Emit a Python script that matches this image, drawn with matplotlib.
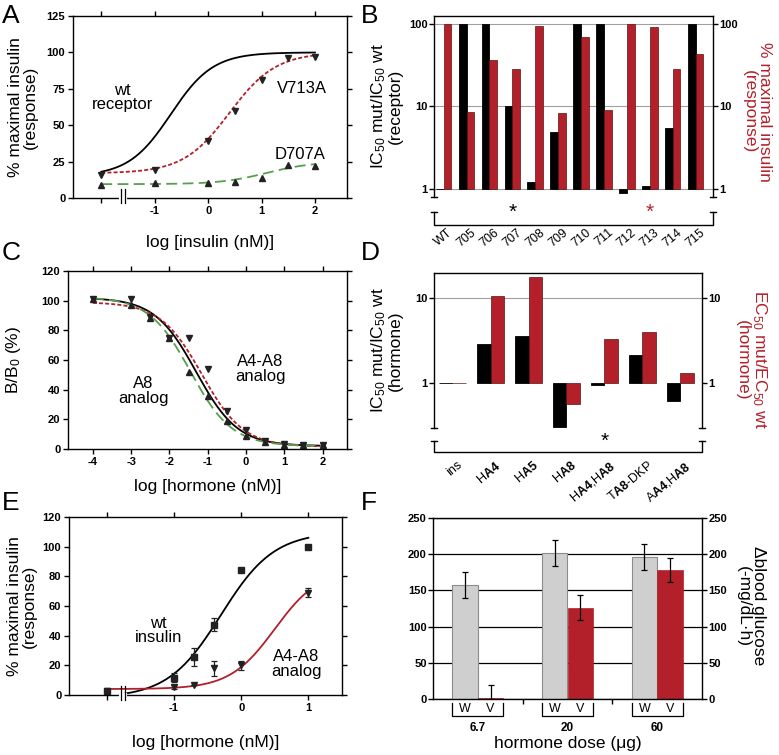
import numpy as np
import matplotlib.pyplot as plt
from matplotlib.transforms import blended_transform_factory as btf

plt.rcParams['font.family'] = 'Liberation Sans'
plt.rcParams['mathtext.fontset'] = 'custom'
plt.rcParams['mathtext.rm'] = 'Liberation Sans'
plt.rcParams['mathtext.bf'] = 'Liberation Sans:bold'
plt.rcParams['mathtext.it'] = 'Liberation Sans:italic'

RED = '#b3202a'
GREEN = '#55a04c'
GRAY = '#cfcfcf'
LAB = 12.5   # axis label size
ANN = 12     # in-plot labels
TK = 8       # tick labels

# ---- panel A : receptor mutants
a_x = [-2, -1, 0, 0.5, 1, 1.5, 2]
a_v713 = [16, 19, 39, 60, 81, 96, 97]
a_d707 = [9, 10, 10, 11, 13.5, 23, 22]
# fit params: bottom, top, logEC50, hill
a_fit_wt = (15, 100, -0.7, 1.1)
a_fit_v713 = (17, 100, 0.4, 1.0)
a_fit_d707 = (9.5, 25, 1.1, 1.0)

# ---- panel B : alanine scan
b_labels = ['WT', '705', '706', '707', '708', '709', '710', '711', '712', '713', '714', '715']
b_ic50 = [1, 100, 100, 10, 1.2, 4.9, 100, 100, 0.9, 1.1, 5.5, 100]
b_resp = [100, 8.5, 36, 28, 95, 8.2, 70, 9, 98, 92, 28.5, 43.5]

# ---- panel C : competitive binding
c_x = [-4, -3, -2.5, -2, -1.5, -1, -0.5, 0, 0.5, 1, 1.5, 2]
c_a4a8 = [101, 101, 89, 75, 74.5, 54, 25.6, 13, 5.6, 3.4, 3, 2.7]
c_a8 = [101, 97, 88, 74.5, 52, 36, 19, 9, 5, 2.7, 2.7, 2.5]
c_fit_ins = (2, 102, -1.3, -0.8)
c_fit_a4a8 = (1.5, 99, -1.15, -0.8)
c_fit_a8 = (2, 102.5, -1.45, -0.8)

# ---- panel D : analogs
d_labels = ['ins', r'H$\mathbf{A4}$', r'H$\mathbf{A5}$', r'H$\mathbf{A8}$',
            r'H$\mathbf{A4}$,H$\mathbf{A8}$', r'T$\mathbf{A8}$-DKP', r'A$\mathbf{A4}$,H$\mathbf{A8}$']
d_ic50 = [1, 2.9, 3.6, 0.31, 0.94, 2.15, 0.62]
d_ec50 = [1, 10.5, 17.7, 0.57, 3.26, 3.97, 1.31]

# ---- panel E : activity
e_x = [-2, -1, -0.7, -0.4, 0, 1]
e_wt = [2.5, 11.5, 25.5, 47.5, 84, 100]
e_wt_err = [0, 3, 6, 4.5, 0, 0]
e_a4a8 = [3, 5.5, 7, 18, 20, 69]
e_a4a8_err = [0, 1.5, 0, 5, 3, 3]
e_fit_wt = (-2, 110, -0.3, 1.1)
e_fit_a4a8 = (4, 85, 0.5, 1.3)

# ---- panel F : rat potency
f_doses = ['6.7', '20', '60']
f_wt = [158, 202, 196]
f_wt_err = [18, 18, 18]
f_v = [1.5, 126, 178]
f_v_err = [18, 17, 17]


def logistic(x, p):
    bottom, top, logec, hill = p
    return bottom + (top - bottom) / (1 + 10 ** ((logec - x) * hill))


def rect(l, r, t, b):
    return [l / 779, 1 - b / 755, (r - l) / 779, (b - t) / 755]


def ftext(xp, yp, s, **kw):
    fig.text(xp / 779, 1 - yp / 755, s, **kw)


def curve_style(ax):
    for s in ax.spines.values():
        s.set_linewidth(1.0)
    ax.tick_params(direction='out', length=3.5, width=1.0, top=True, right=True,
                   labelsize=TK, pad=2)
    for t in ax.get_xticklabels() + ax.get_yticklabels():
        t.set_fontweight('bold')


def axis_break(ax, xb):
    tr = btf(ax.transData, ax.transAxes)
    ax.plot([xb - 0.03, xb + 0.03], [0, 0], transform=tr, color='white', lw=3,
            clip_on=False, zorder=5)
    for xx in (xb - 0.03, xb + 0.03):
        ax.plot([xx, xx], [-0.03, 0.05], transform=tr, color='k', lw=0.9,
                clip_on=False, zorder=6)


def bottom_bracket(ax, y1, y2, cap=0.012):
    kw = dict(transform=ax.transAxes, color='k', lw=1.0, clip_on=False)
    for x0 in (0, 1):
        ax.plot([x0 - cap, x0 + cap], [0, 0], **kw)
        ax.plot([x0 - cap, x0 + cap], [y1, y1], **kw)
    ax.plot([0, 0, 1, 1], [y1, y2, y2, y1], **kw)


def log_bar_style(ax, ticks, ylim):
    ax.set_yscale('log')
    ax.set_ylim(*ylim)
    ax.spines['bottom'].set_visible(False)
    for s in ax.spines.values():
        s.set_linewidth(1.0)
    ax.set_yticks(ticks, [str(t) for t in ticks])
    ax.yaxis.set_minor_locator(plt.NullLocator())
    ax.tick_params(axis='y', direction='out', length=3.5, width=1.0, labelsize=TK,
                   right=True, labelright=True, pad=1)
    for t in ax.get_yticklabels():
        t.set_fontweight('bold')
    ax.tick_params(axis='x', length=0)
    ax.set_xticks([])
    ax.set_axisbelow(True)


fig = plt.figure(figsize=(7.79, 7.55), dpi=100)

# ================= A
ax = fig.add_axes(rect(73, 347, 16, 198))
xx = np.linspace(-2, 2, 200)
ax.plot(xx, logistic(xx, a_fit_wt), color='k', lw=1.3)
ax.plot(xx, logistic(xx, a_fit_v713), color=RED, lw=1.3, dashes=(2.2, 1.2))
ax.plot(xx, logistic(xx, a_fit_d707), color=GREEN, lw=1.3, dashes=(6, 3))
ax.plot(a_x, a_v713, 'v', color='#222222', ms=5)
ax.plot(a_x, a_d707, '^', color='#222222', ms=5)
ax.set_xlim(-2.53, 2.6)
ax.set_ylim(0, 125)
ax.set_xticks([-2, -1, 0, 1, 2], ['', '-1', '0', '1', '2'])
ax.set_yticks([0, 25, 50, 75, 100, 125])
curve_style(ax)
axis_break(ax, -1.595)
ax.text(-1.6, 69, 'wt\nreceptor', fontsize=ANN, ha='center', va='center', linespacing=0.95)
ax.text(1.76, 75, 'V713A', fontsize=ANN, ha='center', va='center')
ax.text(1.73, 30, 'D707A', fontsize=ANN, ha='center', va='center')
ax.set_xlabel('log [insulin (nM)]', fontsize=LAB)
ax.xaxis.set_label_coords(0.5, -0.205)
ax.set_ylabel('% maximal insulin\n(response)', fontsize=LAB, linespacing=1.0)
ax.yaxis.set_label_coords(-0.128, 0.5)

# ================= B
ax = fig.add_axes(rect(434, 713, 16, 197))
xb = np.arange(len(b_labels))
ax.bar(xb - 0.17, np.array(b_ic50) - 1, bottom=1, width=0.34, color='k',
       edgecolor='k', lw=0.6)
ax.bar(xb + 0.17, np.array(b_resp) - 1, bottom=1, width=0.34, color=RED,
       edgecolor='#5a1414', lw=0.5)
ax.set_xlim(-0.42, 11.76)
log_bar_style(ax, [1, 10, 100], (0.8, 124))
ax.yaxis.grid(True, color='#a0a0a0', lw=0.8)
ax.set_ylabel('IC$_{50}$ mut/IC$_{50}$ wt\n(receptor)', fontsize=LAB, linespacing=1.0)
ax.yaxis.set_label_coords(-0.112, 0.5)
ftext(757, 112, '% maximal insulin\n(response)', fontsize=LAB, color=RED, rotation=270,
      ha='center', va='center', linespacing=1.0)
bottom_bracket(ax, -0.083, -0.156)
tr = btf(ax.transData, ax.transAxes)
ax.text(3, -0.085, '*', fontsize=15, ha='center', va='center', transform=tr)
ax.text(9, -0.085, '*', fontsize=15, ha='center', va='center', transform=tr, color=RED)
for i, lab in enumerate(b_labels):
    ax.text(i, -0.225, lab, fontsize=9, rotation=40, ha='center', va='center',
            transform=tr)

# ================= C
ax = fig.add_axes(rect(68, 347, 271, 449))
xx = np.linspace(-4, 2, 200)
ax.plot(xx, logistic(xx, c_fit_ins), color='k', lw=1.3)
ax.plot(xx, logistic(xx, c_fit_a4a8), color=RED, lw=1.3, dashes=(2.2, 1.2))
ax.plot(xx, logistic(xx, c_fit_a8), color=GREEN, lw=1.3, dashes=(6, 3))
ax.plot(c_x, c_a4a8, 'v', color='#222222', ms=5)
ax.plot(c_x, c_a8, '^', color='#222222', ms=5)
ax.set_xlim(-4.65, 2.64)
ax.set_ylim(0, 120)
ax.set_xticks([-4, -3, -2, -1, 0, 1, 2], ['-4', '-3', '-2', '-1', '0', '1', '2'])
ax.set_yticks([0, 20, 40, 60, 80, 100, 120])
curve_style(ax)
ax.text(-2.69, 39, 'A8\nanalog', fontsize=ANN, ha='center', va='center', linespacing=0.95)
ax.text(0.37, 54, 'A4-A8\nanalog', fontsize=ANN, ha='center', va='center', linespacing=0.95)
ax.set_xlabel('log [hormone (nM)]', fontsize=LAB)
ax.xaxis.set_label_coords(0.5, -0.17)
ax.set_ylabel('B/B$_0$ (%)', fontsize=LAB)
ax.yaxis.set_label_coords(-0.16, 0.5)

# ================= D
ax = fig.add_axes(rect(434, 702, 273, 428))
xd = np.arange(len(d_labels))
ax.bar(xd - 0.175, np.array(d_ic50) - 1, bottom=1, width=0.35, color='k',
       edgecolor='k', lw=0.6)
ax.bar(xd + 0.175, np.array(d_ec50) - 1, bottom=1, width=0.35, color=RED,
       edgecolor='#5a1414', lw=0.5)
ax.set_xlim(-0.49, 6.57)
log_bar_style(ax, [1, 10], (0.298, 19.6))
ax.axhline(10, color='#a0a0a0', lw=0.8, zorder=0)
ax.set_ylabel('IC$_{50}$ mut/IC$_{50}$ wt\n(hormone)', fontsize=LAB, linespacing=1.0)
ax.yaxis.set_label_coords(-0.115, 0.5)
ftext(752, 360, 'EC$_{50}$ mut/EC$_{50}$ wt\n(hormone)', fontsize=LAB, color=RED,
      rotation=270, ha='center', va='center', linespacing=1.0)
bottom_bracket(ax, -0.086, -0.154)
tr = btf(ax.transData, ax.transAxes)
ax.text(4, -0.085, '*', fontsize=15, ha='center', va='center', transform=tr)
for i, lab in enumerate(d_labels):
    ax.text(i + 0.12, -0.2, lab, fontsize=9, rotation=40, ha='right', va='top',
            rotation_mode='anchor', transform=tr)

# ================= E
ax = fig.add_axes(rect(69, 342, 517, 695))
xx = np.linspace(-1.75, 1, 200)
ax.plot(xx, logistic(xx, e_fit_wt), color='k', lw=1.3)
xx = np.linspace(-2, 1, 200)
ax.plot(xx, logistic(xx, e_fit_a4a8), color=RED, lw=1.3)
ax.errorbar(e_x, e_wt, yerr=e_wt_err, fmt='s', color='#222222', ms=4, capsize=2.5,
            elinewidth=0.9, capthick=0.9)
ax.errorbar(e_x, e_a4a8, yerr=e_a4a8_err, fmt='v', color='#222222', ms=5, capsize=2.5,
            elinewidth=0.9, capthick=0.9)
ax.set_xlim(-2.56, 1.5)
ax.set_ylim(0, 120)
ax.set_xticks([-2, -1, 0, 1], ['', '-1', '0', '1'])
ax.set_yticks([0, 20, 40, 60, 80, 100, 120])
curve_style(ax)
axis_break(ax, -1.75)
ax.text(-1.23, 43.5, 'wt\ninsulin', fontsize=ANN, ha='center', va='center', linespacing=0.95)
ax.text(0.82, 21, 'A4-A8\nanalog', fontsize=ANN, ha='center', va='center', linespacing=0.95)
ax.set_xlabel('log [hormone (nM)]', fontsize=LAB)
ax.xaxis.set_label_coords(0.5, -0.225)
ax.set_ylabel('% maximal insulin\n(response)', fontsize=LAB, linespacing=1.0)
ax.yaxis.set_label_coords(-0.118, 0.5)

# ================= F
ax = fig.add_axes(rect(433, 702, 518, 699))
xf = np.arange(len(f_doses))
w = 0.285
ax.bar(xf - w / 2, f_wt, width=w, color=GRAY, edgecolor='#8c8c8c', lw=0.8)
ax.bar(xf + w / 2, f_v, width=w, color=RED, edgecolor=RED, lw=0.5)
ax.errorbar(xf - w / 2, f_wt, yerr=f_wt_err, fmt='none', ecolor='k', capsize=2.5,
            elinewidth=0.9, capthick=0.9)
ax.errorbar(xf + w / 2, f_v, yerr=f_v_err, fmt='none', ecolor='k', capsize=2.5,
            elinewidth=0.9, capthick=0.9)
ax.set_xlim(-0.5, 2.5)
ax.set_ylim(0, 250)
ax.set_yticks([0, 50, 100, 150, 200, 250])
ax.set_xticks([0.5, 1.5], ['', ''])
ax.set_axisbelow(True)
ax.yaxis.grid(True, color='k', lw=0.9)
for s in ax.spines.values():
    s.set_linewidth(1.0)
ax.tick_params(direction='out', length=3.5, width=1.0, labelsize=TK, right=True,
               labelright=True, pad=1)
for t in ax.get_yticklabels():
    t.set_fontweight('bold')
tr = btf(ax.transData, ax.transAxes)
for i, dose in enumerate(f_doses):
    ax.plot([i - w, i - w, i + w, i + w], [-0.022, -0.096, -0.096, -0.022], color='k',
            lw=0.9, transform=tr, clip_on=False)
    ax.text(i - w / 2, -0.055, 'W', fontsize=9, ha='center', va='center', transform=tr)
    ax.text(i + w / 2, -0.055, 'V', fontsize=9, ha='center', va='center', transform=tr)
    ax.text(i, -0.16, dose, fontsize=8.5, fontweight='bold', ha='center', va='center',
            transform=tr)
ax.text(0.5, -0.245, 'hormone dose (\u03bcg)', fontsize=LAB, ha='center', va='center',
        transform=ax.transAxes)
ftext(751, 606, '\u0394blood glucose\n(-mg/dL\u00b7h)', fontsize=LAB, rotation=270,
      ha='center', va='center', linespacing=1.0)

# panel letters
for lab, x, y in [('A', 2, 4), ('B', 361, 4), ('C', 2, 241), ('D', 361, 241),
                  ('E', 2, 491), ('F', 361, 491)]:
    ftext(x, y, lab, fontsize=19, ha='left', va='top')

fig.savefig('out.png', dpi=100)
